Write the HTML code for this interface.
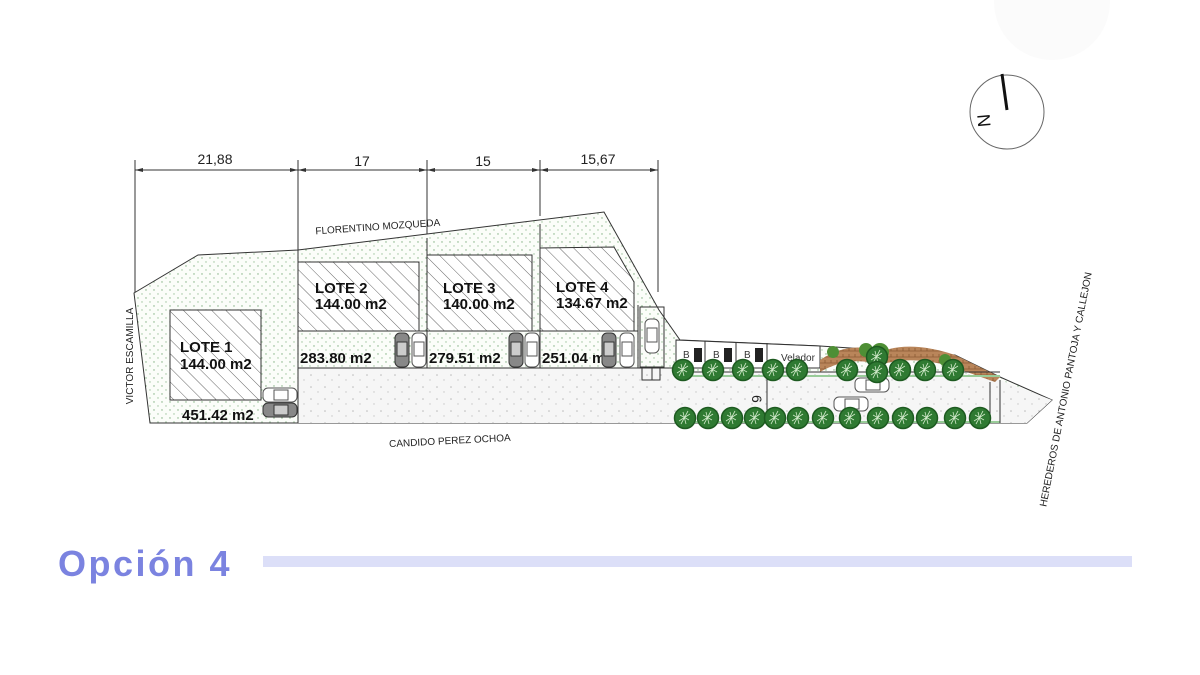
<!DOCTYPE html>
<html><head><meta charset="utf-8"><style>
html,body{margin:0;padding:0;background:#fff;width:1200px;height:675px;overflow:hidden}
svg{display:block}
text{font-family:"Liberation Sans",sans-serif}
</style></head><body>
<svg width="1200" height="675" viewBox="0 0 1200 675" xmlns="http://www.w3.org/2000/svg">
<defs>
<pattern id="dots" width="8" height="8" patternUnits="userSpaceOnUse">
<rect width="8" height="8" fill="#fbfdf9"/><circle cx="2" cy="2" r="0.7" fill="#7fae7f"/><circle cx="6" cy="6" r="0.7" fill="#9cc29c"/></pattern>
<pattern id="grav" width="14" height="12" patternUnits="userSpaceOnUse">
<rect width="14" height="12" fill="#f6f6f6"/><circle cx="3" cy="3" r="0.8" fill="#bbb"/><circle cx="10" cy="8" r="0.7" fill="#c8c8c8"/></pattern>
<pattern id="hatch" width="10" height="10" patternUnits="userSpaceOnUse" patternTransform="rotate(-45)">
<rect width="10" height="10" fill="#fff"/><line x1="0" y1="0" x2="0" y2="10" stroke="#666" stroke-width="1"/></pattern>
<pattern id="brick" width="6" height="6" patternUnits="userSpaceOnUse">
<rect width="6" height="6" fill="#b9855a"/><path d="M0 3H6M3 0V3" stroke="#8a5a33" stroke-width="0.8"/></pattern>
<g id="tree"><circle r="10.5" fill="#2f7a32"/><circle r="10.5" fill="none" stroke="#1d5a20" stroke-width="1.5"/><path d="M-5 -3L4 2M-2 -6L1 6M-6 3L5 -4M3 -7L-4 6" stroke="#cfe8c8" stroke-width="0.8"/></g>
<g id="car"><rect x="-7" y="-17" width="14" height="34" rx="5" fill="#fff" stroke="#555"/><rect x="-5" y="-8" width="10" height="14" fill="none" stroke="#555"/></g>
<g id="carD"><rect x="-7" y="-17" width="14" height="34" rx="5" fill="#888" stroke="#333"/><rect x="-5" y="-8" width="10" height="14" fill="#ccc" stroke="#333"/></g>
</defs>

<circle cx="1052" cy="2" r="58" fill="#fbfbfb"/>

<g stroke="#333" stroke-width="1" fill="none">
<line x1="135" y1="160" x2="135" y2="300"/>
<line x1="298" y1="160" x2="298" y2="252"/>
<line x1="427" y1="160" x2="427" y2="240"/>
<line x1="540" y1="160" x2="540" y2="216"/>
<line x1="658" y1="160" x2="658" y2="292"/>
<line x1="135" y1="170" x2="658" y2="170"/>
</g>
<g fill="#333">
<path d="M135 170l8-2v4zM298 170l-8-2v4zM298 170l8-2v4zM427 170l-8-2v4zM427 170l8-2v4zM540 170l-8-2v4zM540 170l8-2v4zM658 170l-8-2v4z"/>
</g>
<g font-size="14" fill="#222" text-anchor="middle">
<text x="215" y="164">21,88</text><text x="362" y="166">17</text><text x="483" y="166">15</text><text x="598" y="164">15,67</text>
</g>

<path d="M134 293L198 255L298 250L604 212L659 310L680 340L820 346L955 355L1000 377L1052 400L1027 423L150 423Z" fill="url(#dots)" stroke="#333" stroke-width="1"/>
<rect x="298" y="368" width="380" height="55" fill="url(#grav)"/>
<path d="M640 372L680 372L820 372L955 372L1000 380L1052 400L1027 423L640 423Z" fill="url(#grav)"/>

<g stroke="#333" stroke-width="1" fill="none">
<line x1="298" y1="250" x2="298" y2="423"/>
<line x1="427" y1="238" x2="427" y2="368"/>
<line x1="540" y1="224" x2="540" y2="368"/>
<line x1="638" y1="305" x2="638" y2="368"/>
<line x1="298" y1="331" x2="638" y2="331"/>
<line x1="298" y1="368" x2="680" y2="368"/>
</g>
<g stroke="#333" stroke-width="1">
<rect x="170" y="310" width="91" height="90" fill="url(#hatch)"/>
<rect x="298" y="262" width="121" height="69" fill="url(#hatch)"/>
<rect x="427" y="255" width="105" height="76" fill="url(#hatch)"/>
<path d="M540 248L614 247L634 282L634 331L540 331Z" fill="url(#hatch)"/>
</g>
<g font-size="15" font-weight="bold" fill="#111">
<text x="180" y="352">LOTE 1</text><text x="180" y="369">144.00 m2</text>
<text x="315" y="293">LOTE 2</text><text x="315" y="309">144.00 m2</text>
<text x="443" y="293">LOTE 3</text><text x="443" y="309">140.00 m2</text>
<text x="556" y="292">LOTE 4</text><text x="556" y="308">134.67 m2</text>
<text x="300" y="363">283.80 m2</text><text x="429" y="363">279.51 m2</text>
<text x="542" y="363">251.04 m2</text><text x="182" y="420">451.42 m2</text>
</g>
<use href="#carD" x="402" y="350"/><use href="#car" x="419" y="350"/>
<use href="#carD" x="516" y="350"/><use href="#car" x="532" y="350"/>
<use href="#carD" x="609" y="350"/><use href="#car" x="627" y="350"/>
<use href="#car" transform="translate(280,395) rotate(90)"/>
<use href="#carD" transform="translate(280,410) rotate(90)"/>
<use href="#car" transform="translate(652,336)"/>
<rect x="640" y="307" width="24" height="60" fill="none" stroke="#333"/>
<path d="M642 368v12h10v-12M652 380h8v-12" fill="none" stroke="#333"/>

<g stroke="#333" fill="#fff">
<path d="M676 340L820 346L820 368L676 368Z"/>
<line x1="705" y1="341" x2="705" y2="368"/><line x1="736" y1="342" x2="736" y2="368"/><line x1="767" y1="343" x2="767" y2="368"/>
</g>
<g font-size="10" fill="#333"><text x="683" y="358">B</text><text x="713" y="358">B</text><text x="744" y="358">B</text><text x="781" y="361">Velador</text></g>
<g fill="#222"><rect x="694" y="348" width="8" height="14"/><rect x="724" y="348" width="8" height="14"/><rect x="755" y="348" width="8" height="14"/></g>
<path d="M820 360Q850 340 880 352Q910 340 955 355L1000 377L995 382L950 366Q910 355 880 365Q850 355 820 372Z" fill="url(#brick)"/>
<g fill="#4e8f35"><circle cx="833" cy="352" r="6"/><circle cx="866" cy="350" r="7"/><circle cx="880" cy="352" r="9"/><circle cx="945" cy="360" r="6"/></g>
<line x1="676" y1="372" x2="1000" y2="372" stroke="#333"/>
<line x1="676" y1="376" x2="1000" y2="376" stroke="#9c9" stroke-width="2"/>
<line x1="676" y1="422" x2="1000" y2="422" stroke="#9c9" stroke-width="2"/>
<path d="M990 382V423M1000 380V423" stroke="#333" fill="none"/>
<use href="#car" transform="translate(872,385) rotate(90)"/>
<use href="#car" transform="translate(851,404) rotate(90)"/>
<line x1="767" y1="372" x2="767" y2="418" stroke="#333"/>
<text x="0" y="0" font-size="14" fill="#222" transform="translate(752,395) rotate(90)">6</text>
<g>
<use href="#tree" x="683" y="370"/><use href="#tree" x="713" y="370"/><use href="#tree" x="743" y="370"/><use href="#tree" x="773" y="370"/><use href="#tree" x="797" y="370"/><use href="#tree" x="847" y="370"/><use href="#tree" x="877" y="357"/><use href="#tree" x="877" y="372"/><use href="#tree" x="900" y="370"/><use href="#tree" x="925" y="370"/><use href="#tree" x="953" y="370"/>
<use href="#tree" x="685" y="418"/><use href="#tree" x="708" y="418"/><use href="#tree" x="732" y="418"/><use href="#tree" x="755" y="418"/><use href="#tree" x="775" y="418"/><use href="#tree" x="798" y="418"/><use href="#tree" x="823" y="418"/><use href="#tree" x="850" y="418"/><use href="#tree" x="878" y="418"/><use href="#tree" x="903" y="418"/><use href="#tree" x="927" y="418"/><use href="#tree" x="955" y="418"/><use href="#tree" x="980" y="418"/>
</g>

<g font-size="10" fill="#222">
<text transform="translate(378,230) rotate(-4)" text-anchor="middle">FLORENTINO MOZQUEDA</text>
<text transform="translate(450,444) rotate(-3)" text-anchor="middle">CANDIDO PEREZ OCHOA</text>
<text transform="translate(133,356) rotate(-90)" text-anchor="middle">VICTOR ESCAMILLA</text>
<text transform="translate(1069,390) rotate(-79)" text-anchor="middle">HEREDEROS DE ANTONIO PANTOJA Y CALLEJON</text>
</g>

<circle cx="1007" cy="112" r="37" fill="#fff" stroke="#666" stroke-width="1"/>
<line x1="1002" y1="74" x2="1007" y2="110" stroke="#111" stroke-width="3"/>
<text transform="translate(990,120) rotate(-95)" font-size="18" fill="#111" text-anchor="middle">N</text>

<text x="58" y="576" font-size="36" font-weight="bold" fill="#7b83e0" letter-spacing="2.5">Opción 4</text>
<rect x="263" y="556" width="869" height="11" fill="#dcdff8"/>
</svg>
</body></html>
